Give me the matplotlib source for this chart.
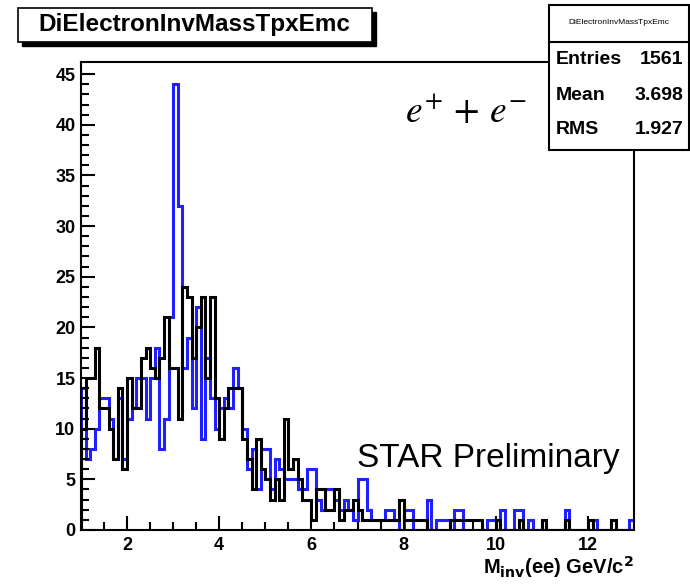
import matplotlib
matplotlib.use("Agg")
import matplotlib.pyplot as plt
import matplotlib.patches as patches
import numpy as np

plt.rcParams['font.family'] = ['Liberation Sans', 'DejaVu Sans']

# histogram binning (1 - 13 GeV/c^2, 0.1 wide bins)
bin_lo, bin_hi, n_bins = 1.0, 13.0, 120

# blue histogram, counts per bin
blue_counts = [14, 7, 8, 10, 13, 13, 11, 7, 13, 7,
               11, 12, 15, 15, 11, 15, 18, 8, 11, 21,
               44, 32, 16, 19, 12, 22, 9, 17, 13, 10,
               12, 13, 12, 16, 14, 10, 6, 8, 4, 8,
               8, 4, 7, 6, 5, 5, 5, 4, 4, 6,
               6, 3, 2, 4, 4, 3, 2, 3, 2, 1,
               5, 5, 2, 1, 1, 1, 2, 2, 1, 0,
               2, 2, 0, 0, 0, 3, 0, 1, 1, 1,
               0, 2, 2, 0, 0, 0, 0, 0, 1, 1,
               0, 2, 0, 0, 2, 2, 0, 1, 0, 0,
               0, 0, 0, 0, 0, 2, 0, 0, 0, 0,
               0, 1, 0, 0, 0, 0, 0, 0, 0, 1]

# black histogram, counts per bin
black_counts = [10, 15, 15, 18, 12, 12, 10, 7, 14, 6,
                15, 12, 12, 17, 18, 16, 15, 17, 21, 16,
                16, 11, 24, 23, 17, 20, 23, 15, 23, 13,
                9, 12, 14, 14, 14, 9, 7, 4, 9, 6,
                5, 3, 5, 3, 11, 6, 7, 5, 3, 3,
                1, 4, 4, 2, 2, 4, 1, 2, 2, 3,
                2, 1, 1, 1, 1, 1, 1, 1, 1, 3,
                1, 1, 1, 1, 1, 0, 0, 0, 0, 0,
                1, 1, 1, 1, 1, 1, 1, 0, 0, 0,
                1, 0, 0, 0, 0, 1, 0, 0, 0, 0,
                1, 0, 0, 0, 0, 1, 0, 0, 0, 0,
                1, 0, 0, 0, 0, 1, 0, 0, 0, 0]

hist_name = "DiElectronInvMassTpxEmc"
stats = [("Entries", "1561"), ("Mean", "3.698"), ("RMS", "1.927")]

W, H = 690, 584
fig = plt.figure(figsize=(W / 100, H / 100), dpi=100)


def fx(px):
    return px / W


def fy(py):
    return 1 - py / H


ax = fig.add_axes([fx(81), fy(530), fx(634) - fx(81), fy(62) - fy(530)])

edges = np.linspace(bin_lo, bin_hi, n_bins + 1)
ax.stairs(blue_counts, edges, baseline=0, color='#1f1fff', linewidth=2.2)
ax.stairs(black_counts, edges, baseline=0, color='black', linewidth=2.2)

ax.set_xlim(bin_lo, bin_hi)
ax.set_ylim(0, 46.2)
ax.set_xticks([2, 4, 6, 8, 10, 12])
ax.set_xticks(np.arange(1.5, 13, 0.5), minor=True)
ax.set_yticks(np.arange(0, 46, 5))
ax.set_yticks(np.arange(0, 46, 1), minor=True)
ax.tick_params(which='both', direction='in', top=False, right=False, width=1.5)
ax.tick_params(which='major', length=10, labelsize=13)
ax.tick_params(axis='y', which='major', pad=4)
ax.tick_params(axis='x', which='major', pad=5)
ax.tick_params(which='minor', length=5.5)
for lab in ax.get_xticklabels() + ax.get_yticklabels():
    lab.set_fontweight('bold')
for sp in ax.spines.values():
    sp.set_linewidth(1.5)

# x axis title, right aligned with the frame
fig.text(fx(634), fy(574), r'M$_{\mathbf{inv}}$(ee) GeV/c$^{\mathbf{2}}$',
         ha='right', va='baseline', fontsize=14.5, fontweight='bold',
         math_fontfamily='dejavusans')

# labels inside the pad
fig.text(fx(405), fy(112), r'$e^{+}\,+\,e^{-}$', fontsize=27,
         ha='left', va='center', math_fontfamily='stix')
fig.text(fx(357), fy(458), 'STAR Preliminary', fontsize=24,
         ha='left', va='center')

# title box with shadow
fig.add_artist(patches.Rectangle((fx(22), fy(46)), fx(354), 34 / H,
                                 transform=fig.transFigure, facecolor='black',
                                 edgecolor='black'))
fig.add_artist(patches.Rectangle((fx(18), fy(42)), fx(354), 34 / H,
                                 transform=fig.transFigure, facecolor='white',
                                 edgecolor='black', linewidth=1.2))
fig.text(fx(194), fy(25), hist_name, fontsize=17.5, fontweight='bold',
         ha='center', va='center')

# stats box
fig.add_artist(patches.Rectangle((fx(549), fy(150)), fx(140), 145 / H,
                                 transform=fig.transFigure, facecolor='white',
                                 edgecolor='black', linewidth=1.5))
fig.add_artist(plt.Line2D([fx(549), fx(689)], [fy(42), fy(42)],
                          transform=fig.transFigure, color='black', linewidth=1.5))
fig.text(fx(619), fy(23), hist_name, fontsize=6, ha='center', va='center')
for i, (name, val) in enumerate(stats):
    y = fy(60 + 35 * i)
    fig.text(fx(556), y, name, fontsize=14, fontweight='bold', ha='left', va='center')
    fig.text(fx(683), y, val, fontsize=14, fontweight='bold', ha='right', va='center')

fig.savefig('out.png', dpi=100)
